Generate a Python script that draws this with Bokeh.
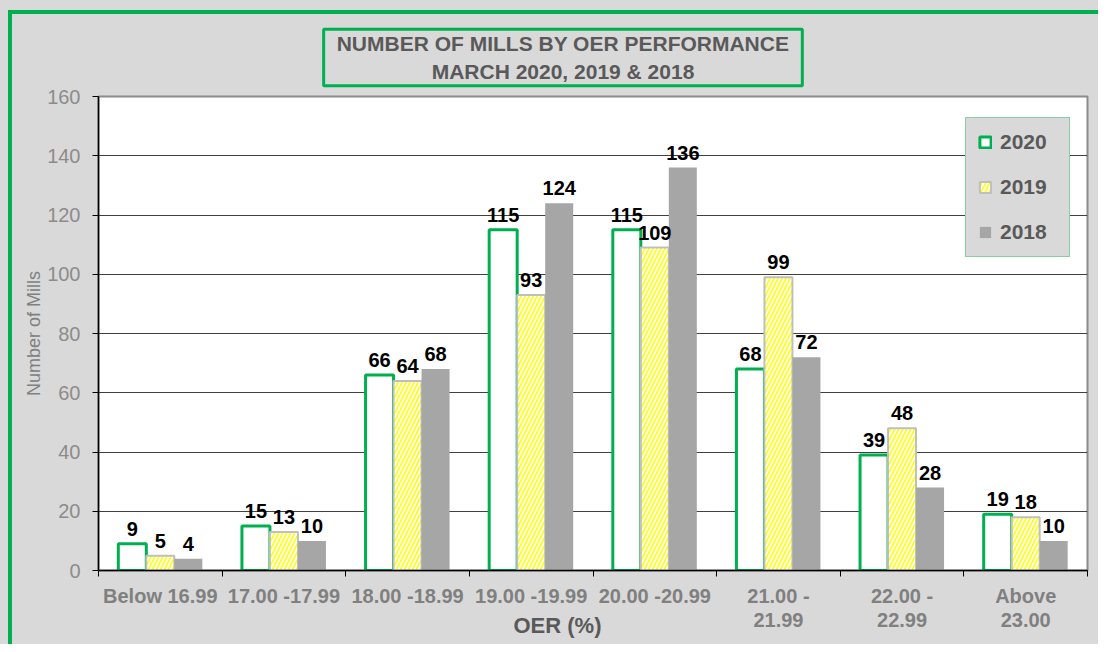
from bokeh.plotting import figure
from bokeh.models import (ColumnDataSource, Range1d, FixedTicker, Label, Legend, LegendItem)
from bokeh.embed import file_html
from bokeh.resources import INLINE
from bokeh.core.properties import value
from bokeh.transform import dodge

# ---------------- data ----------------
categories = ["Below 16.99", "17.00 -17.99", "18.00 -18.99", "19.00 -19.99",
              "20.00 -20.99", "21.00 -\n21.99", "22.00 -\n22.99", "Above\n23.00"]
mills_2020 = [9, 15, 66, 115, 115, 68, 39, 19]
mills_2019 = [5, 13, 64, 93, 109, 99, 48, 18]
mills_2018 = [4, 10, 68, 124, 136, 72, 28, 10]
years = ["2020", "2019", "2018"]
y_ticks = [0, 20, 40, 60, 80, 100, 120, 140, 160]
title_lines = ["NUMBER OF MILLS BY OER PERFORMANCE", "MARCH 2020, 2019 & 2018"]
x_title = "OER (%)"
y_title = "Number of Mills"

FONT = "Liberation Sans"
GREEN = "#00B050"
YELLOW = "#FFFF00"
GREY_BAR = "#A6A6A6"
BG = "#D9D9D9"
BW = 0.2265

# layout (canvas pixels)
W, H = 1098, 644
FL, FR, FT, FB = 98, 1087, 96, 570
NCAT = len(categories)


def px2x(px):
    return (px - FL) / (FR - FL) * NCAT


def py2y(py):
    return (FB - py) / (FB - FT) * (y_ticks[-1] - y_ticks[0]) + y_ticks[0]


centers = [i + 0.5 for i in range(NCAT)]
src = ColumnDataSource(dict(
    x=centers,
    v2020=mills_2020, v2019=mills_2019, v2018=mills_2018,
    t2020=[str(v) for v in mills_2020],
    t2019=[str(v) for v in mills_2019],
    t2018=[str(v) for v in mills_2018],
))

p = figure(width=W, height=H, output_backend="svg", toolbar_location=None,
           x_range=Range1d(0, NCAT), y_range=Range1d(y_ticks[0], y_ticks[-1]),
           min_border_left=FL, min_border_right=W - FR, min_border_top=FT,
           min_border_bottom=H - FB)
p.title.visible = False
p.background_fill_color = "white"
p.border_fill_color = None
p.outline_line_color = "#8C8C8C"
p.outline_line_width = 2
# grey page with the green outer frame (top/left visible, rest cropped as in original)
band = "linear-gradient(%s, %s)" % (GREEN, GREEN)
p.styles = {"background": "%s 8px 10px / 4px %dpx no-repeat, %s 8px 10px / %dpx 4px no-repeat, %s"
                          % (band, H - 10, band, W - 8, BG),
            "overflow": "hidden"}

# grid
p.xgrid.grid_line_color = None
p.ygrid.ticker = FixedTicker(ticks=y_ticks[1:-1])
p.ygrid.grid_line_color = "#404040"
p.ygrid.grid_line_width = 1

# y axis
p.yaxis.ticker = FixedTicker(ticks=y_ticks)
p.yaxis.axis_line_color = "black"
p.yaxis.axis_line_width = 1.5
p.yaxis.major_tick_line_color = "black"
p.yaxis.major_tick_out = 6
p.yaxis.major_tick_in = 0
p.yaxis.minor_tick_line_color = None
p.yaxis.major_label_text_font = FONT
p.yaxis.major_label_text_font_size = "20px"
p.yaxis.major_label_text_color = "#8C8C8C"
p.yaxis.major_label_standoff = 12
p.yaxis.axis_label = y_title
p.yaxis.axis_label_text_font = FONT
p.yaxis.axis_label_text_font_style = "normal"
p.yaxis.axis_label_text_font_size = "18px"
p.yaxis.axis_label_text_color = "#808080"
p.yaxis.axis_label_standoff = 0

# x axis: labels at centres, ticks at boundaries
p.xaxis.ticker = FixedTicker(ticks=centers, minor_ticks=list(range(NCAT + 1)))
p.xaxis.major_label_overrides = {c: lab for c, lab in zip(centers, categories)}
p.xaxis.axis_line_color = "black"
p.xaxis.axis_line_width = 1.5
p.xaxis.major_tick_line_color = None
p.xaxis.major_tick_out = 0
p.xaxis.major_tick_in = 0
p.xaxis.minor_tick_line_color = "black"
p.xaxis.minor_tick_out = 6
p.xaxis.minor_tick_in = 0
p.xaxis.major_label_text_font = FONT
p.xaxis.major_label_text_font_style = "bold"
p.xaxis.major_label_text_font_size = "20px"
p.xaxis.major_label_text_color = "#808080"
p.xaxis.major_label_text_line_height = 1.1
p.xaxis.major_label_standoff = 8

# bars
r20 = p.vbar(x=dodge("x", -BW, range=p.x_range), top="v2020", width=BW, source=src,
             fill_color="white", line_color=GREEN, line_width=3)
r19 = p.vbar(x=dodge("x", 0, range=p.x_range), top="v2019", width=BW, source=src,
             fill_color=YELLOW, line_color="#BFBFBF", line_width=2,
             hatch_pattern="/", hatch_color="white", hatch_scale=8, hatch_weight=2)
r18 = p.vbar(x=dodge("x", BW, range=p.x_range), top="v2018", width=BW, source=src,
             fill_color=GREY_BAR, line_color=None)

# data labels
for off, col in [(-BW, "2020"), (0, "2019"), (BW, "2018")]:
    p.text(x=dodge("x", off, range=p.x_range), y="v" + col, text="t" + col, source=src,
           text_font=value(FONT), text_font_style="bold", text_font_size="20px",
           text_color="black", text_align="center", text_baseline="bottom", y_offset=-8)

# legend
legend = Legend(items=[LegendItem(label=years[0], renderers=[r20]),
                       LegendItem(label=years[1], renderers=[r19]),
                       LegendItem(label=years[2], renderers=[r18])],
                location=(965 - FL, FB - 257))
legend.background_fill_color = BG
legend.background_fill_alpha = 1
legend.border_line_color = "#3CC070"
legend.border_line_width = 1
legend.label_text_font = FONT
legend.label_text_font_style = "bold"
legend.label_text_font_size = "21px"
legend.label_text_color = "#595959"
legend.glyph_width = 14
legend.glyph_height = 14
legend.label_height = 14
legend.label_width = 57
legend.label_standoff = 8
legend.spacing = 21
legend.padding = 12
p.add_layout(legend, "center")

# title box (placed in the top panel so that it is not clipped to the frame)
p.add_layout(Label(x=px2x(562.5), y=py2y(57),
                   text="\n".join(title_lines), text_align="center", text_baseline="middle",
                   text_font=FONT, text_font_style="bold", text_font_size="21px",
                   text_color="#595959", text_line_height=1.2,
                   background_fill_color=BG, background_fill_alpha=1,
                   border_line_color=GREEN, border_line_width=3,
                   padding=dict(left=13, right=13, top=3, bottom=3)), "above")

# x axis title
p.add_layout(Label(x=px2x(557), y=py2y(625),
                   text=x_title, text_align="center", text_baseline="middle",
                   text_font=FONT, text_font_style="bold", text_font_size="22px",
                   text_color="#595959"), "above")

open("out.html", "w").write(file_html(p, INLINE))
